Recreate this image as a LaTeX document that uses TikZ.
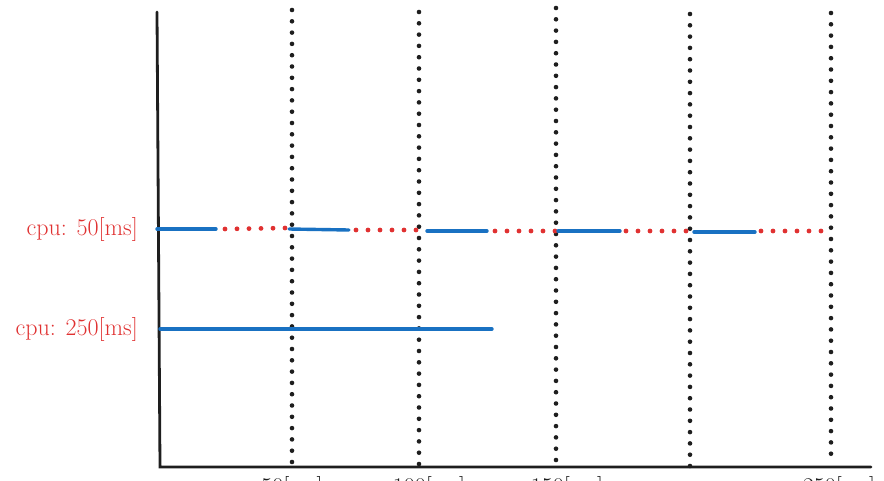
\documentclass[tikz,border=0pt]{standalone}
\usepackage{tikz}
\usetikzlibrary{positioning,calc}
\usepackage{xcolor}
\definecolor{Ink}{HTML}{1E1E1E}
\definecolor{RunBlue}{HTML}{1971C2}
\definecolor{WaitRed}{HTML}{E03131}
\tikzset{
  axisline/.style={draw=Ink, line width=2.8pt, line cap=round},
  slotline/.style={draw=Ink, line width=4.6pt, line cap=round,
    dash pattern=on 0pt off 11.3pt},
  runbar/.style={draw=RunBlue, line width=3.4pt, line cap=round},
  idledots/.style={draw=WaitRed, line width=4.8pt, line cap=round,
    dash pattern=on 0pt off 12pt},
}

\begin{document}
\begin{tikzpicture}[x=1pt, y=-1pt,
  cpulabel/.style={anchor=east, text=WaitRed, inner sep=0pt,
    font=\fontsize{24}{28}\selectfont},
  ticklabel/.style={anchor=north, text=Ink, inner sep=0pt,
    font=\fontsize{24}{28}\selectfont},
]
  \useasboundingbox (0,0) rectangle (884,480);

  % axes
  \coordinate (ytop) at (157,12);
  \coordinate (origin) at (160,467);
  \coordinate (xend) at (871,467);
  \draw[axisline] (ytop) -- (origin) -- (xend);

  % time slots
  \foreach \name/\x/\top/\bot in {s1/292/10/463, s2/419/12/465, s3/556/8/460,
      s4/690/14/466, s5/831/13/464} {
    \coordinate (\name top) at (\x,\top);
    \coordinate (\name bot) at (\x,\bot);
    \draw[slotline] (\name top) -- (\name bot);
  }

  \node[ticklabel] (t1) at (292,476) {50[ms]};
  \node[ticklabel] (t2) at (429,476) {100[ms]};
  \node[ticklabel] (t3) at (567,476) {150[ms]};
  \node[ticklabel] (t5) at (839,476) {250[ms]};

  % short job
  \node[cpulabel] (cpu50) at (138,229) {cpu: 50[ms]};
  \draw[runbar] (157,229) -- (216,229);
  \draw[idledots] (225,229) -- (285,228);
  \draw[runbar] (289,229) -- (349,230);
  \draw[idledots] (356,230) -- (416,230);
  \draw[runbar] (427,231) -- (487,231);
  \draw[idledots] (495,231) -- (555,231);
  \draw[runbar] (558,231) -- (620,231);
  \draw[idledots] (626,231) -- (686,231);
  \draw[runbar] (694,232) -- (755,232);
  \draw[idledots] (761,231) -- (821,231);

  % long job
  \node[cpulabel] (cpu250) at (138,329) {cpu: 250[ms]};
  \draw[runbar] (160,329) -- (492,329);
\end{tikzpicture}
\end{document}
